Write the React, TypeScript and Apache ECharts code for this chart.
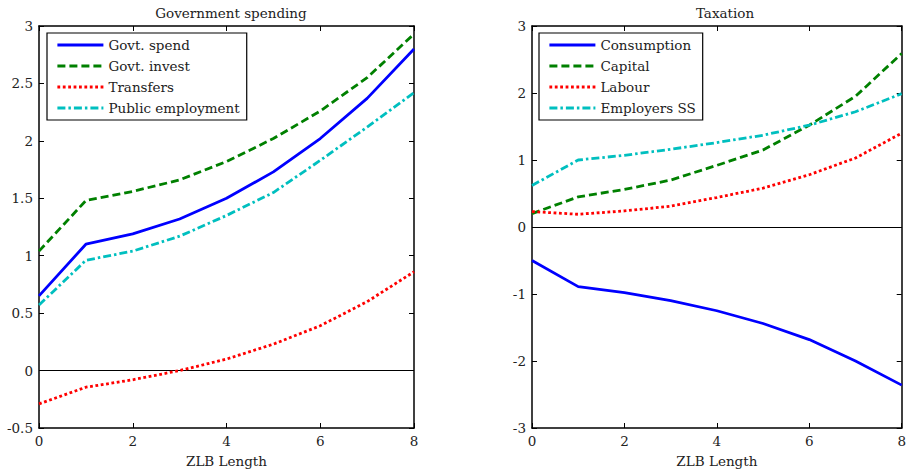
import React, { useEffect, useRef } from "react";
import * as echarts from "echarts";

const xs = [0, 1, 2, 3, 4, 5, 6, 7, 8];

// Government spending panel
const govtSpend = [0.65, 1.10, 1.19, 1.32, 1.50, 1.73, 2.02, 2.37, 2.80];
const govtInvest = [1.04, 1.48, 1.56, 1.66, 1.82, 2.02, 2.26, 2.55, 2.93];
const transfers = [-0.29, -0.145, -0.08, 0.0, 0.10, 0.23, 0.39, 0.60, 0.86];
const publicEmployment = [0.57, 0.96, 1.04, 1.17, 1.35, 1.55, 1.83, 2.12, 2.42];

// Taxation panel
const consumption = [-0.50, -0.89, -0.98, -1.10, -1.25, -1.44, -1.68, -2.00, -2.36];
const capital = [0.20, 0.45, 0.56, 0.70, 0.92, 1.15, 1.52, 1.95, 2.59];
const labour = [0.23, 0.19, 0.24, 0.31, 0.44, 0.58, 0.78, 1.03, 1.40];
const employersSS = [0.62, 1.00, 1.07, 1.16, 1.26, 1.37, 1.52, 1.72, 1.99];

const leftNames = ["Govt. spend", "Govt. invest", "Transfers", "Public employment"];
const rightNames = ["Consumption", "Capital", "Labour", "Employers SS"];
const leftTitle = "Government spending";
const rightTitle = "Taxation";
const xName = "ZLB Length";

const FONT = "DejaVu Serif";
const FS = 13.5;
const TXT = "#222";

const styles = [
  { color: "#0000ff", type: "solid" as any },
  { color: "#008000", type: [8, 4] as any },
  { color: "#ff0000", type: [2.8, 2.6] as any },
  { color: "#00bfbf", type: [8, 3, 2.5, 3] as any },
];

function pairs(arr: number[]) {
  return arr.map((v, i) => [xs[i], v]);
}

export default function App() {
  const ref = useRef<HTMLDivElement>(null);
  useEffect(() => {
    document.body.style.margin = "0";
    const chart = echarts.init(ref.current!, undefined, { renderer: "svg" });

    const axisLine = { show: true, onZero: false, lineStyle: { color: "#000", width: 1.5 } };
    const axisTick = { show: true, inside: true, length: 5, lineStyle: { color: "#000", width: 1 } };
    const axisLabel = { fontFamily: FONT, fontSize: FS, color: TXT, margin: 6 };

    const mkX = (grid: number, pos: "bottom" | "top") => ({
      type: "value",
      gridIndex: grid,
      position: pos,
      min: 0,
      max: 8,
      interval: 2,
      axisLine,
      axisTick,
      splitLine: { show: false },
      axisLabel: pos === "bottom" ? axisLabel : { show: false },
      name: pos === "bottom" ? xName : undefined,
      nameLocation: "middle",
      nameGap: 26,
      nameTextStyle: { fontFamily: FONT, fontSize: FS, color: TXT },
    });
    const mkY = (grid: number, pos: "left" | "right", min: number, max: number, interval: number) => ({
      type: "value",
      gridIndex: grid,
      position: pos,
      min,
      max,
      interval,
      axisLine,
      axisTick,
      splitLine: { show: false },
      axisLabel: pos === "left" ? axisLabel : { show: false },
    });

    const mkSeries = (names: string[], data: number[][], xi: number, yi: number) =>
      names.map((n, k) => ({
        type: "line",
        name: n,
        xAxisIndex: xi,
        yAxisIndex: yi,
        data: pairs(data[k]),
        symbol: "none",
        showSymbol: false,
        z: 3,
        color: styles[k].color,
        lineStyle: { color: styles[k].color, width: 2.8, type: styles[k].type, cap: "butt" },
        markLine:
          k === 0
            ? {
                silent: true,
                symbol: "none",
                label: { show: false },
                lineStyle: { color: "#000", width: 1, type: "solid" },
                data: [{ yAxis: 0 }],
                z: 1,
              }
            : undefined,
      }));

    const legendBase = {
      orient: "vertical",
      top: 33,
      borderColor: "#000",
      borderWidth: 1.2,
      backgroundColor: "#fff",
      padding: [5, 7, 5, 9],
      itemWidth: 46,
      itemHeight: 14,
      itemGap: 7,
      itemStyle: { opacity: 0 },
      lineStyle: { width: 2.8 },
      textStyle: { fontFamily: FONT, fontSize: FS, color: TXT, lineHeight: 14 },
    };

    chart.setOption({
      animation: false,
      textStyle: { fontFamily: FONT },
      title: [
        {
          text: leftTitle,
          left: 226,
          textAlign: "center",
          top: 1,
          textStyle: { fontFamily: FONT, fontSize: FS, fontWeight: "normal", color: TXT },
        },
        {
          text: rightTitle,
          left: 720,
          textAlign: "center",
          top: 1,
          textStyle: { fontFamily: FONT, fontSize: FS, fontWeight: "normal", color: TXT },
        },
      ],
      legend: [
        { ...legendBase, left: 47, data: leftNames },
        { ...legendBase, left: 539, data: rightNames },
      ],
      grid: [
        { left: 39, right: 495, top: 26, bottom: 46 },
        { left: 532, right: 2, top: 26, bottom: 46 },
      ],
      xAxis: [mkX(0, "bottom"), mkX(0, "top"), mkX(1, "bottom"), mkX(1, "top")],
      yAxis: [mkY(0, "left", -0.5, 3, 0.5), mkY(0, "right", -0.5, 3, 0.5), mkY(1, "left", -3, 3, 1), mkY(1, "right", -3, 3, 1)],
      series: [
        ...mkSeries(leftNames, [govtSpend, govtInvest, transfers, publicEmployment], 0, 0),
        ...mkSeries(rightNames, [consumption, capital, labour, employersSS], 2, 2),
      ],
    });
    return () => chart.dispose();
  }, []);
  return <div ref={ref} style={{ width: 909, height: 474 }} />;
}
